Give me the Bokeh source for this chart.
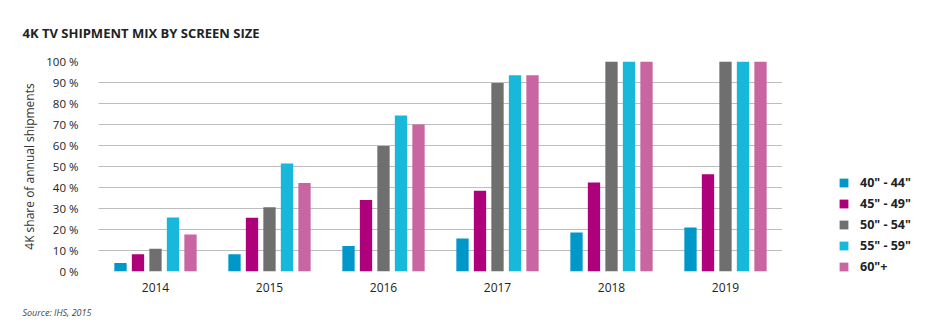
from bokeh.plotting import figure
from bokeh.models import ColumnDataSource, Range1d, FixedTicker, Legend, LegendItem, Title
from bokeh.transform import dodge
from bokeh.embed import file_html
from bokeh.resources import INLINE

years = ["2014", "2015", "2016", "2017", "2018", "2019"]
sizes = ['40" - 44"', '45" - 49"', '50" - 54"', '55" - 59"', '60"+']
s40_44 = [4.0, 8.2, 12.2, 15.7, 18.6, 21.0]
s45_49 = [8.2, 25.6, 34.1, 38.4, 42.4, 46.3]
s50_54 = [10.8, 30.6, 59.8, 89.8, 100.0, 100.0]
s55_59 = [25.7, 51.4, 74.3, 93.5, 100.0, 100.0]
s60_up = [17.6, 42.2, 70.0, 93.5, 100.0, 100.0]
colors = ["#0098C9", "#AE007B", "#6F6F6F", "#17B8DA", "#C966A1"]
y_ticks = list(range(0, 101, 10))
y_labels = [f"{t} %" for t in y_ticks]
title_text = "4K TV SHIPMENT MIX BY SCREEN SIZE"
y_title = "4K share of annual shipments"
source_text = "Source: IHS, 2015"

FONT = "Open Sans"
keys = ["s40_44", "s45_49", "s50_54", "s55_59", "s60_up"]
src = ColumnDataSource(dict(years=years, s40_44=s40_44, s45_49=s45_49,
                            s50_54=s50_54, s55_59=s55_59, s60_up=s60_up))

p = figure(frame_width=684, frame_height=210, x_range=years, y_range=Range1d(0, 100),
           output_backend="svg", toolbar_location=None,
           min_border_left=98, min_border_right=151, min_border_top=61, min_border_bottom=57)
p.outline_line_color = None
p.background_fill_color = "white"
p.border_fill_color = "white"

pitch = 0.1535
bw = 0.108
items = []
for i, (k, c, name) in enumerate(zip(keys, colors, sizes)):
    r = p.vbar(x=dodge("years", (i - 2) * pitch, range=p.x_range), top=k, width=bw,
               source=src, fill_color=c, line_color=None)
    items.append(LegendItem(label=name, renderers=[r]))

# grid
p.xgrid.grid_line_color = None
p.ygrid.ticker = FixedTicker(ticks=y_ticks)
p.ygrid.grid_line_color = "#7a7a7a"
p.ygrid.grid_line_dash = "1 1"
p.ygrid.grid_line_width = 1
p.ygrid.level = "underlay"

# y axis
ya = p.yaxis[0]
ya.ticker = FixedTicker(ticks=y_ticks)
ya.major_label_overrides = {t: l for t, l in zip(y_ticks, y_labels)}
ya.axis_line_color = None
ya.major_tick_line_color = None
ya.minor_tick_line_color = None
ya.major_label_standoff = 14
ya.major_label_text_font = FONT
ya.major_label_text_font_size = "11.5px"
ya.major_label_text_color = "#222222"
ya.axis_label = y_title
ya.axis_label_text_font = FONT
ya.axis_label_text_font_size = "12px"
ya.axis_label_text_font_style = "normal"
ya.axis_label_text_color = "#333333"
ya.axis_label_standoff = 5

# x axis
xa = p.xaxis[0]
xa.axis_line_color = None
xa.major_tick_line_color = None
xa.minor_tick_line_color = None
xa.major_label_standoff = 5
xa.major_label_text_font = FONT
xa.major_label_text_font_size = "12px"
xa.major_label_text_color = "#222222"

# title and source
p.title = Title(text=title_text, align="left", offset=-76, standoff=40,
                text_font=FONT, text_font_size="13px", text_font_style="bold",
                text_color="#222222")
p.add_layout(Title(text=source_text, align="left", offset=-76, standoff=18,
                   text_font=FONT, text_font_size="9px", text_font_style="italic",
                   text_color="#444444"), "below")

legend = Legend(items=items, location=(56, -4), orientation="vertical",
                border_line_color=None, background_fill_alpha=0, padding=0, margin=0,
                glyph_width=11, glyph_height=11, label_standoff=11, spacing=4,
                label_text_font=FONT, label_text_font_size="12.5px",
                label_text_font_style="bold", label_text_color="#222222")
p.add_layout(legend, "right")

open("out.html", "w").write(file_html(p, INLINE))
